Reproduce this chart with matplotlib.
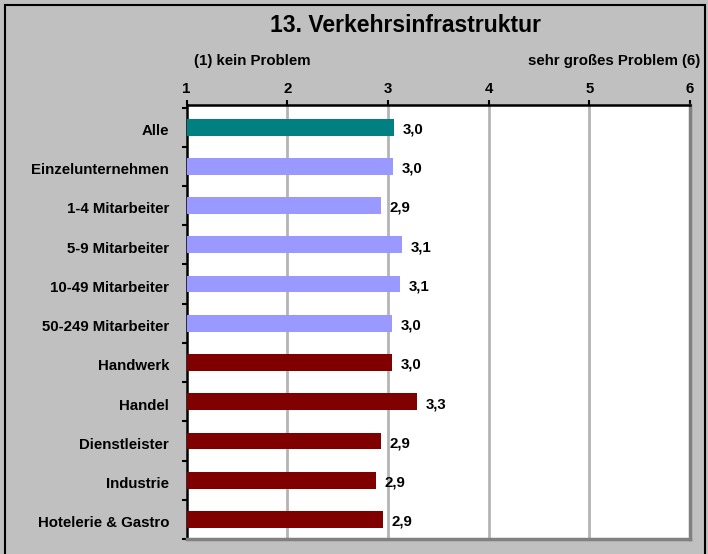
import matplotlib
matplotlib.use("Agg")
import matplotlib.pyplot as plt
from matplotlib.patches import Rectangle
import numpy as np

plt.rcParams['font.family'] = ['Liberation Sans', 'DejaVu Sans']

categories = ["Alle", "Einzelunternehmen", "1-4 Mitarbeiter", "5-9 Mitarbeiter",
              "10-49 Mitarbeiter", "50-249 Mitarbeiter", "Handwerk", "Handel",
              "Dienstleister", "Industrie", "Hotelerie & Gastro"]
values = [3.06, 3.05, 2.93, 3.14, 3.12, 3.04, 3.04, 3.29, 2.93, 2.88, 2.95]
labels = ["3,0", "3,0", "2,9", "3,1", "3,1", "3,0", "3,0", "3,3", "2,9", "2,9", "2,9"]
groups = ["all", "size", "size", "size", "size", "size",
          "sector", "sector", "sector", "sector", "sector"]
group_colors = {"all": "#008080", "size": "#9999FF", "sector": "#800000"}
xticks = [1, 2, 3, 4, 5, 6]

W, H = 708, 554
FS = 10.8
fig = plt.figure(figsize=(W / 100, H / 100), dpi=100)
fig.patch.set_facecolor("#C0C0C0")

# outer frame (bottom edge lies outside the picture)
fig.patches.append(Rectangle((5 / W, -10 / H), 700 / W, (H - 5 + 10) / H,
                             transform=fig.transFigure, fill=False,
                             edgecolor="black", linewidth=1.5))

x0, x1 = 186.5, 690
y0, y1 = 105, 539
ax = fig.add_axes([x0 / W, 1 - y1 / H, (x1 - x0) / W, (y1 - y0) / H])
ax.set_facecolor("white")

n = len(categories)
ypos = np.arange(n)
colors = [group_colors[g] for g in groups]
ax.barh(ypos, [v - 1 for v in values], left=1, height=0.43, color=colors, zorder=3)
for y, v, lab in zip(ypos, values, labels):
    ax.text(v + 0.085, y + 0.06, lab, va="center", ha="left", fontsize=FS,
            fontweight="bold", zorder=4)

ax.set_xlim(1, 6)
ax.set_ylim(n - 0.5, -0.565)
ax.set_xticks(xticks)
ax.set_xticklabels([str(t) for t in xticks], fontsize=FS, fontweight="bold")
ax.xaxis.tick_top()
ax.tick_params(axis="x", direction="out", length=3.8, width=1.5, pad=3, color="black")
for t in xticks[1:-1]:
    ax.axvline(t, color="#B4B4B4", linewidth=2, zorder=1)

ax.set_yticks(np.arange(-0.5, n, 1.0))
ax.set_yticklabels([])
ax.set_yticks(ypos + 0.06, minor=True)
ax.set_yticklabels(categories, minor=True, fontsize=FS, fontweight="bold")
ax.tick_params(axis="y", which="major", direction="out", length=3.8, width=1.5, color="black")
ax.tick_params(axis="y", which="minor", length=0, pad=12.5)

for s in ["left", "top"]:
    ax.spines[s].set_color("black")
    ax.spines[s].set_linewidth(1.8)
for s in ["right", "bottom"]:
    ax.spines[s].set_color("#808080")
    ax.spines[s].set_linewidth(2.5)

fig.text(406 / W, 1 - 26 / H, "13. Verkehrsinfrastruktur", ha="center", va="center",
         fontsize=16.5, fontweight="bold")
fig.text(252 / W, 1 - 61 / H, "(1) kein Problem", ha="center", va="center",
         fontsize=FS, fontweight="bold")
fig.text(700 / W, 1 - 61 / H, "sehr großes Problem (6)", ha="right", va="center",
         fontsize=FS, fontweight="bold")

fig.savefig("out.png", dpi=100, facecolor=fig.get_facecolor())
